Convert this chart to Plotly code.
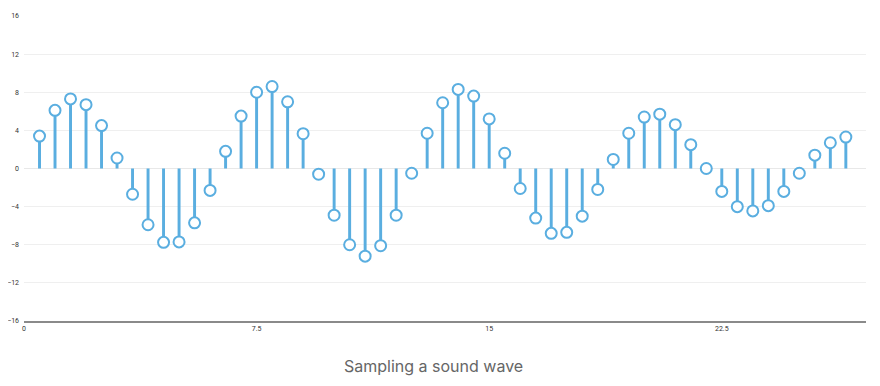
import plotly.graph_objects as go

x_vals = [0.5 * i for i in range(1, 54)]
y_vals = [3.4, 6.1, 7.3, 6.7, 4.5, 1.1, -2.7, -5.9, -7.75, -7.7, -5.7, -2.3,
          1.8, 5.5, 8.0, 8.6, 7.0, 3.65, -0.6, -4.9, -8.0, -9.2, -8.1, -4.9,
          -0.5, 3.7, 6.9, 8.3, 7.6, 5.2, 1.6, -2.1, -5.2, -6.8, -6.7, -5.0,
          -2.2, 0.95, 3.7, 5.4, 5.7, 4.6, 2.5, 0.0, -2.4, -4.0, -4.45, -3.9,
          -2.4, -0.5, 1.4, 2.7, 3.3]
y_ticks = [-16, -12, -8, -4, 0, 4, 8, 12, 16]
x_ticks = [0, 7.5, 15, 22.5]
x_tick_labels = ["0", "7.5", "15", "22.5"]
title_text = "Sampling a sound wave"

blue = "#5AAEE0"

fig = go.Figure()
fig.add_trace(go.Bar(x=x_vals, y=y_vals, width=0.095, marker=dict(color=blue, line=dict(width=0)),
                     hoverinfo="skip"))
fig.add_trace(go.Scatter(x=x_vals, y=y_vals, mode="markers",
                         marker=dict(size=11, color="white", line=dict(color=blue, width=2))))

fig.update_layout(
    width=880, height=386,
    margin=dict(l=16, r=22, t=8, b=73),
    paper_bgcolor="white", plot_bgcolor="white",
    showlegend=False,
    font=dict(family="Roboto, Arial, sans-serif", color="#333"),
    xaxis=dict(range=[0, 27.15], tickvals=x_ticks, ticktext=x_tick_labels,
               showgrid=False, zeroline=False, showline=True, linecolor="#8a8a8a",
               linewidth=2, ticks="", tickfont=dict(size=7, color="#333"), automargin=False),
    yaxis=dict(range=[-16, 16], tickvals=y_ticks, showgrid=True, gridcolor="#efefef",
               gridwidth=1, zeroline=True, zerolinecolor="#e8e8e8", zerolinewidth=1,
               ticks="", tickfont=dict(size=7, color="#333"), ticklabelstandoff=4,
               automargin=False),
    annotations=[dict(text=title_text, x=0.486, y=-0.1475, xref="paper", yref="paper",
                      xanchor="center", yanchor="middle", showarrow=False,
                      font=dict(size=16, color="#666", family="Inter, Roboto, sans-serif"))],
)

fig.write_html("out.html")
